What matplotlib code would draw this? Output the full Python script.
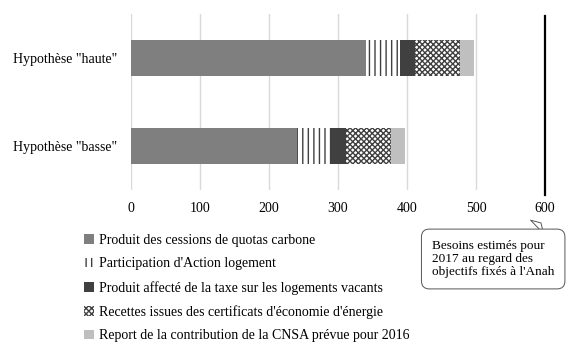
import matplotlib
matplotlib.use("Agg")
import matplotlib.pyplot as plt
import numpy as np

# financement de l'Anah, en millions d'euros
hypotheses = ['Hypothèse "basse"', 'Hypothèse "haute"']
quotas_carbone = [240, 340]
action_logement = [50, 50]
taxe_vacants = [22, 22]
cee = [65, 65]
report_cnsa = [20, 20]
besoins_2017 = 600

series = [
    ("Produit des cessions de quotas carbone", quotas_carbone, "#7f7f7f", None),
    ("Participation d'Action logement", action_logement, "white", "|||"),
    ("Produit affecté de la taxe sur les logements vacants", taxe_vacants, "#404040", None),
    ("Recettes issues des certificats d'économie d'énergie", cee, "white", "xxxxxx"),
    ("Report de la contribution de la CNSA prévue pour 2016", report_cnsa, "#bfbfbf", None),
]

plt.rcParams['font.family'] = ['Liberation Serif', 'DejaVu Serif']
plt.rcParams['hatch.linewidth'] = 1.0

fig = plt.figure(figsize=(5.72, 3.52), dpi=100)
ax = fig.add_axes([131/572, 1-190/352, (545-131)/572, 176/352])

y = np.arange(len(hypotheses))
left = np.zeros(len(hypotheses))
handles = []
for name, vals, col, hatch in series:
    b = ax.barh(y, vals, left=left, height=0.4, color=col, hatch=hatch,
                edgecolor="#404040" if hatch else col, linewidth=0, label=name)
    left += np.array(vals)
    handles.append(b)

ax.axvline(besoins_2017, ymin=-0.03, ymax=0.99, color="black", lw=1.6, clip_on=False, zorder=3)

ax.set_xlim(0, 600)
ax.set_ylim(-0.5, 1.5)
ax.set_xticks(range(0, 601, 100))
ax.set_yticks(y)
ax.set_yticklabels(hypotheses)
ax.grid(axis="x", color="#d9d9d9", lw=1)
ax.set_axisbelow(True)
for s in ax.spines.values():
    s.set_visible(False)
ax.tick_params(length=0, labelsize=10, colors="black")
ax.tick_params(axis="x", pad=9)
ax.tick_params(axis="y", pad=10)

fig.legend(handles=handles, loc="upper left", bbox_to_anchor=(84/572, 1-234/352),
           frameon=False, fontsize=10, handlelength=0.7, handleheight=0.7,
           handletextpad=0.4, labelspacing=0.75, borderpad=0, borderaxespad=0)

ax.annotate("Besoins estimés pour\n2017 au regard des\nobjectifs fixés à l'Anah",
            xy=(543/572, 1-221/352), xycoords="figure fraction",
            xytext=(432/572, 1-259/352), textcoords="figure fraction",
            ha="left", va="center", fontsize=9.5, linespacing=1.15,
            bbox=dict(boxstyle="round,pad=0.8,rounding_size=0.6", fc="white", ec="#555555", lw=0.7),
            arrowprops=dict(arrowstyle="wedge,tail_width=1.4,shrink_factor=0.5",
                            fc="white", ec="#555555", lw=0.7, relpos=(0.75, 1.0)))

fig.savefig("out.png", dpi=100)
